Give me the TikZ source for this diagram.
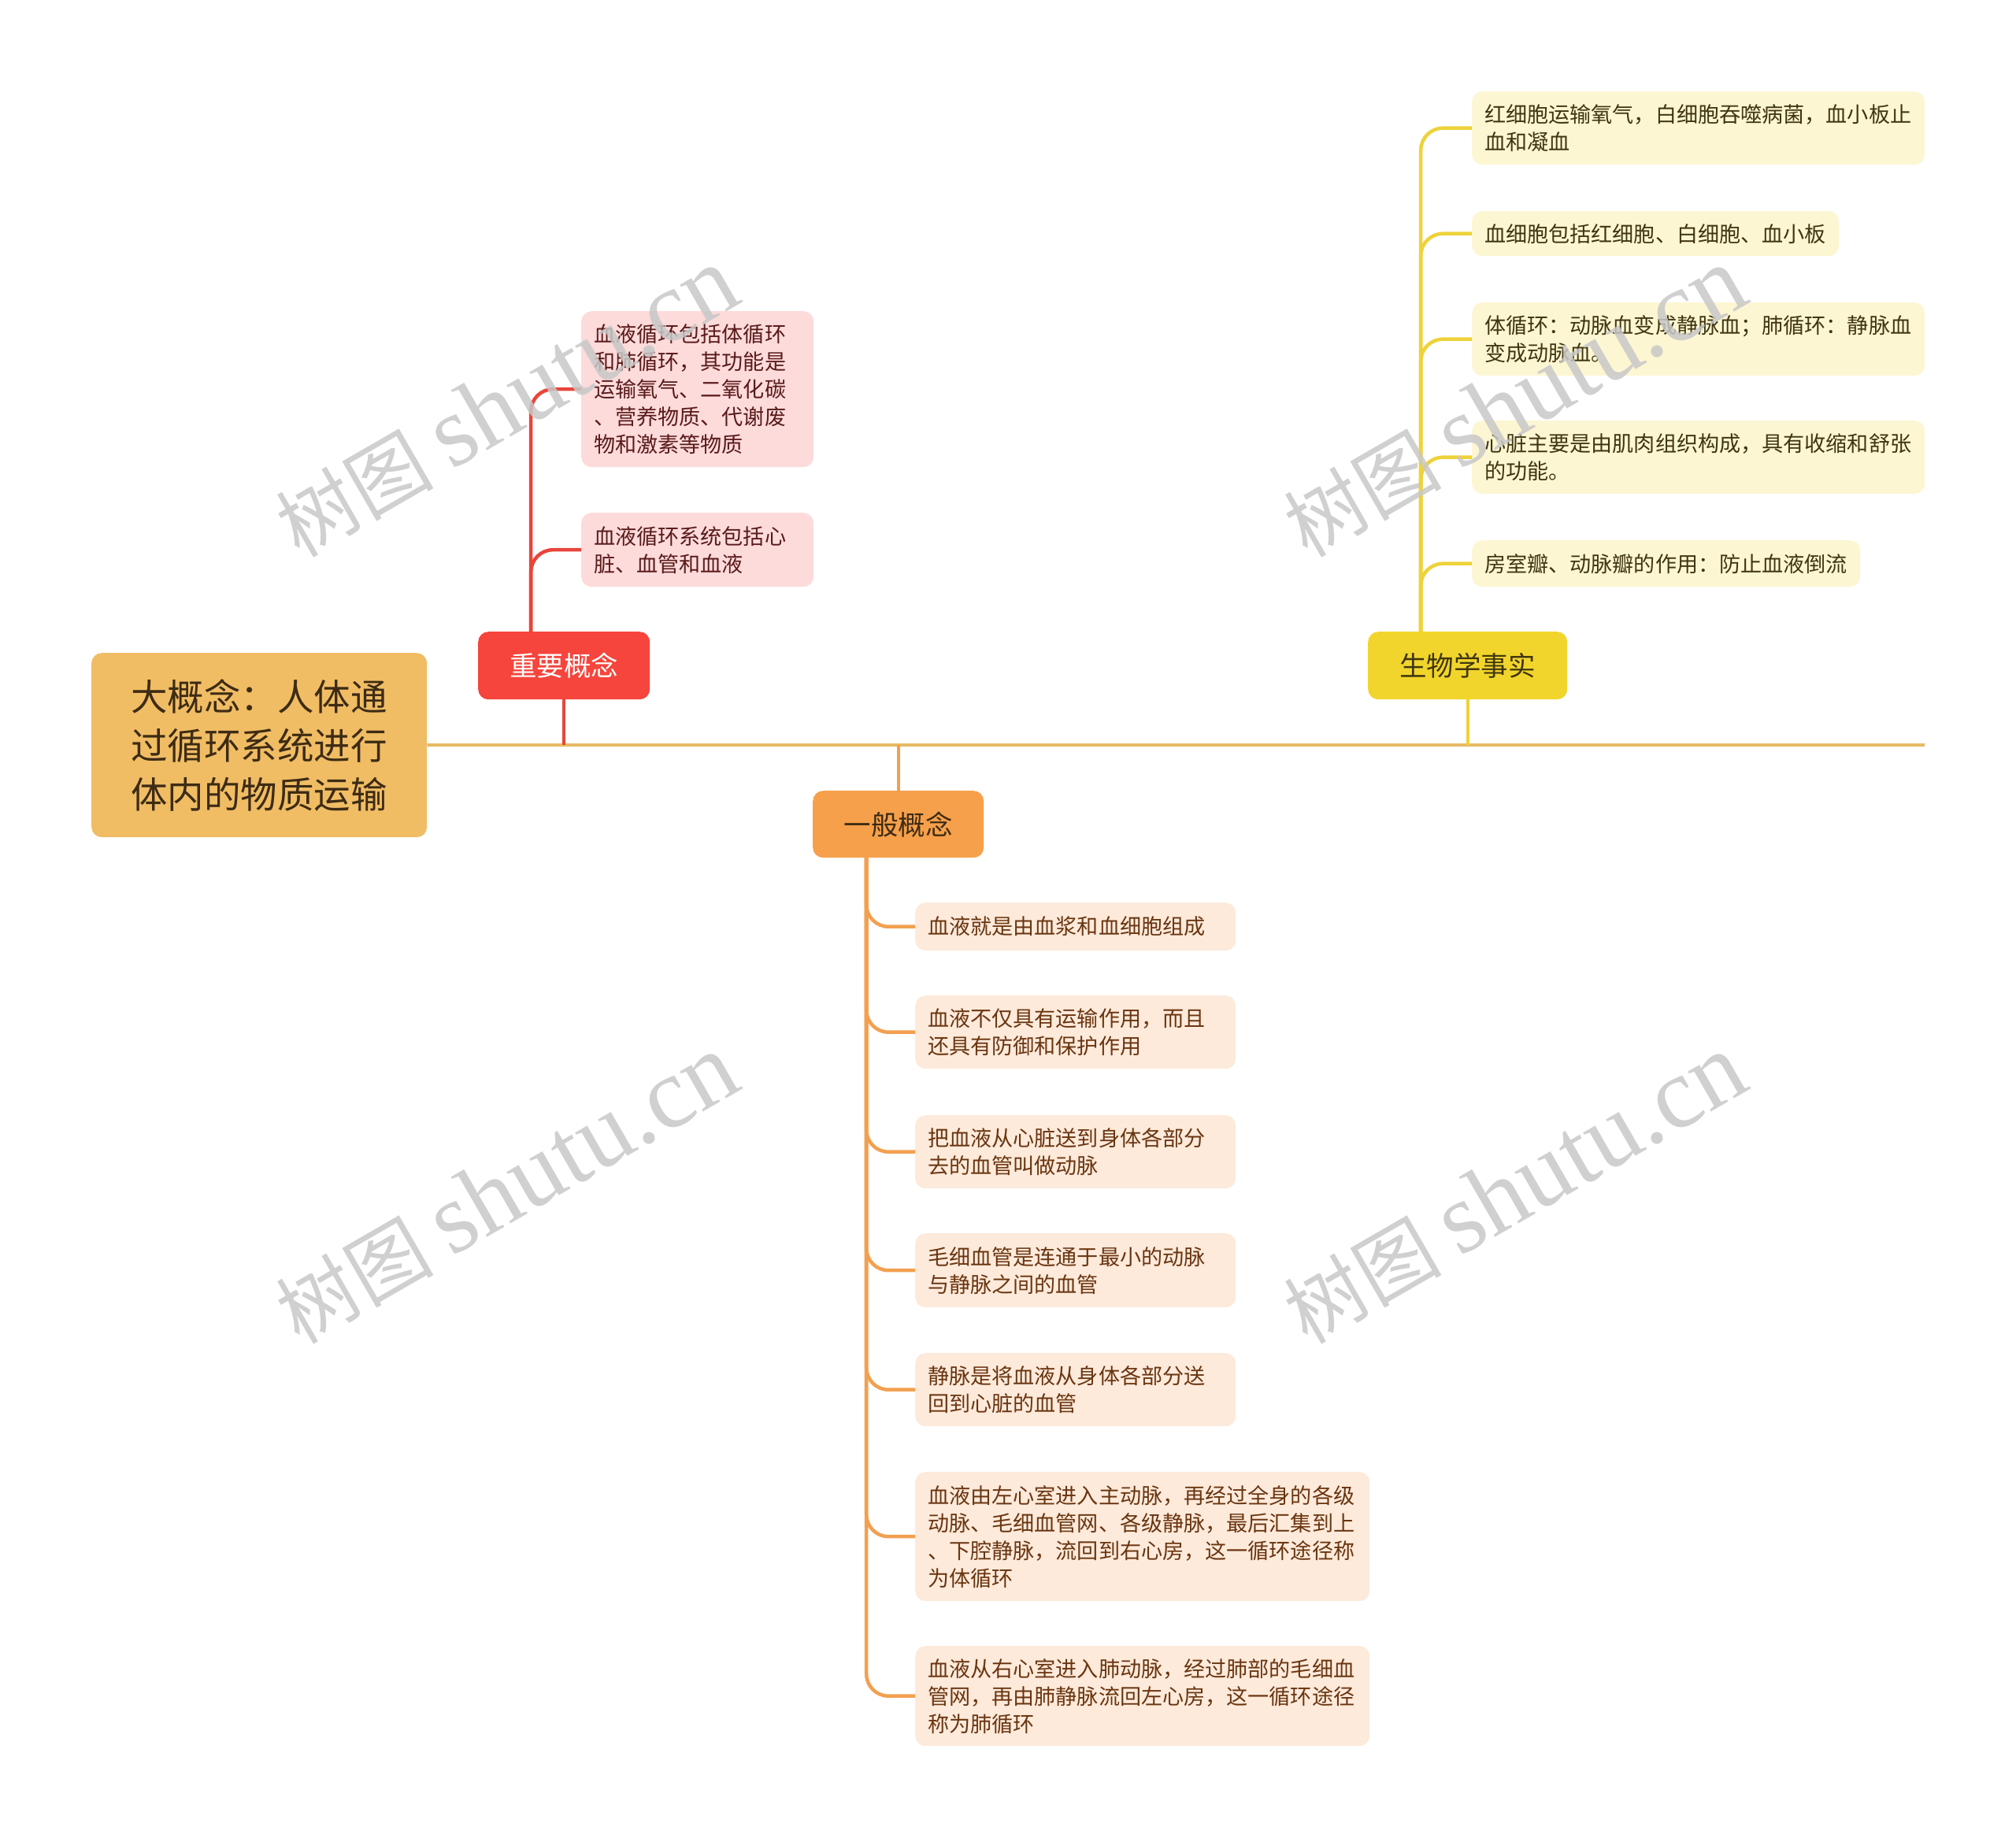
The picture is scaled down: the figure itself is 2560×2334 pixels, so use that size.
\documentclass[tikz,border=0pt]{standalone}
\usepackage{fontspec}
\setmainfont{Noto Sans CJK SC}
\newfontfamily\wmlatin{Liberation Serif}
\definecolor{rootfill}{HTML}{F0BD65}
\definecolor{roottext}{HTML}{3D2B14}
\definecolor{mainline}{HTML}{E8BA66}
\definecolor{redfill}{HTML}{F5453C}
\definecolor{redline}{HTML}{E8453C}
\definecolor{pinkfill}{HTML}{FDDBDB}
\definecolor{pinktext}{HTML}{5A1A1A}
\definecolor{yelfill}{HTML}{F2D52C}
\definecolor{yelline}{HTML}{EED23A}
\definecolor{creamfill}{HTML}{FDF6D3}
\definecolor{creamtext}{HTML}{3F3510}
\definecolor{orgfill}{HTML}{F6A04B}
\definecolor{orgline}{HTML}{F2A050}
\definecolor{peachfill}{HTML}{FDEADB}
\definecolor{peachtext}{HTML}{6A3510}
\definecolor{wmgray}{HTML}{C8C8C8}
\tikzset{
  box/.style={rounded corners=13pt, anchor=north west, inner ysep=0pt},
  topic/.style={box, inner xsep=0pt, align=center, font=\fontsize{34.5}{44}\selectfont},
  child/.style={box, inner xsep=16pt, align=left, font=\fontsize{27.1}{35}\selectfont},
  pchild/.style={child, fill=pinkfill, text=pinktext},
  ychild/.style={child, fill=creamfill, text=creamtext},
  ochild/.style={child, fill=peachfill, text=peachtext},
  conn/.style={line width=4.5pt, rounded corners=28pt},
  wm/.style={rotate=30, text=wmgray, opacity=0.85, font=\fontsize{100}{120}\selectfont}
}
\newcommand{\wmtext}{树图 {\wmlatin\fontsize{128}{130}\selectfont shutu.cn}}
\begin{document}
\begin{tikzpicture}[x=1pt,y=-1pt]
\useasboundingbox (0,0) rectangle (2560,2334);
% root
\node[box, fill=rootfill, text=roottext, minimum width=426pt, minimum height=234pt, inner xsep=0pt, align=left,
  font=\fontsize{46.5}{62}\selectfont] (root) at (116,829) {大概念：人体通\\过循环系统进行\\体内的物质运输};
\coordinate (mainend) at (2444,946);
% topics
\node[topic, fill=redfill, text=white, minimum width=218pt, minimum height=86pt] (rb) at (607,802) {重要概念};
\node[topic, fill=yelfill, text=creamtext, minimum width=253pt, minimum height=86pt] (yb) at (1737,802) {生物学事实};
\node[topic, fill=orgfill, text=roottext, minimum width=217pt, minimum height=85pt] (ob) at (1032,1004) {一般概念};
% red children
\node[pchild, text width=263pt, minimum height=198pt] (r1) at (738,395) {血液循环包括体循环\\和肺循环，其功能是\\运输氧气、二氧化碳\\、营养物质、代谢废\\物和激素等物质};
\node[pchild, text width=263pt, minimum height=94pt] (r2) at (738,651) {血液循环系统包括心\\脏、血管和血液};
% yellow children
\node[ychild, text width=543pt, minimum height=93pt] (y1) at (1869,116) {红细胞运输氧气，白细胞吞噬病菌，血小板止\\血和凝血};
\node[ychild, text width=434pt, minimum height=57pt] (y2) at (1869,268) {血细胞包括红细胞、白细胞、血小板};
\node[ychild, text width=543pt, minimum height=93pt] (y3) at (1869,384) {体循环：动脉血变成静脉血；肺循环：静脉血\\变成动脉血。};
\node[ychild, text width=543pt, minimum height=93pt] (y4) at (1869,534) {心脏主要是由肌肉组织构成，具有收缩和舒张\\的功能。};
\node[ychild, text width=461pt, minimum height=59pt] (y5) at (1869,686) {房室瓣、动脉瓣的作用：防止血液倒流};
% orange children
\node[ochild, text width=375pt, minimum height=61pt] (g1) at (1162,1146) {血液就是由血浆和血细胞组成};
\node[ochild, text width=375pt, minimum height=93pt] (g2) at (1162,1264) {血液不仅具有运输作用，而且\\还具有防御和保护作用};
\node[ochild, text width=375pt, minimum height=93pt] (g3) at (1162,1416) {把血液从心脏送到身体各部分\\去的血管叫做动脉};
\node[ochild, text width=375pt, minimum height=94pt] (g4) at (1162,1566) {毛细血管是连通于最小的动脉\\与静脉之间的血管};
\node[ochild, text width=375pt, minimum height=93pt] (g5) at (1162,1718) {静脉是将血液从身体各部分送\\回到心脏的血管};
\node[ochild, text width=545pt, minimum height=164pt] (g6) at (1162,1869) {血液由左心室进入主动脉，再经过全身的各级\\动脉、毛细血管网、各级静脉，最后汇集到上\\、下腔静脉，流回到右心房，这一循环途径称\\为体循环};
\node[ochild, text width=545pt, minimum height=127pt] (g7) at (1162,2090) {血液从右心室进入肺动脉，经过肺部的毛细血\\管网，再由肺静脉流回左心房，这一循环途径\\称为肺循环};
% main line and topic links
\draw[mainline, line width=4pt] (root.east) -- (mainend);
\draw[redline, line width=4pt] (rb.south) -- (rb.south |- root.east);
\draw[yelline, line width=4pt] (yb.south) -- (yb.south |- root.east);
\draw[orgline, line width=4pt] (ob.north) -- (ob.north |- root.east);
% red branch
\foreach \c in {r1,r2}
  \draw[conn, redline] ([xshift=-42pt]rb.north) |- (\c.west);
% yellow branch
\foreach \c in {y1,y2,y3,y4,y5}
  \draw[conn, yelline] ([xshift=-59.5pt]yb.north) |- (\c.west);
% orange branch
\foreach \c in {g1,g2,g3,g4,g5,g6,g7}
  \draw[conn, orgline] ([xshift=-40.5pt]ob.south) |- (\c.west);
% watermarks
\node[wm] (w1) at (643,511) {\wmtext};
\node[wm] (w2) at (1923,511) {\wmtext};
\node[wm] (w3) at (643,1510) {\wmtext};
\node[wm] (w4) at (1923,1510) {\wmtext};
\end{tikzpicture}
\end{document}
